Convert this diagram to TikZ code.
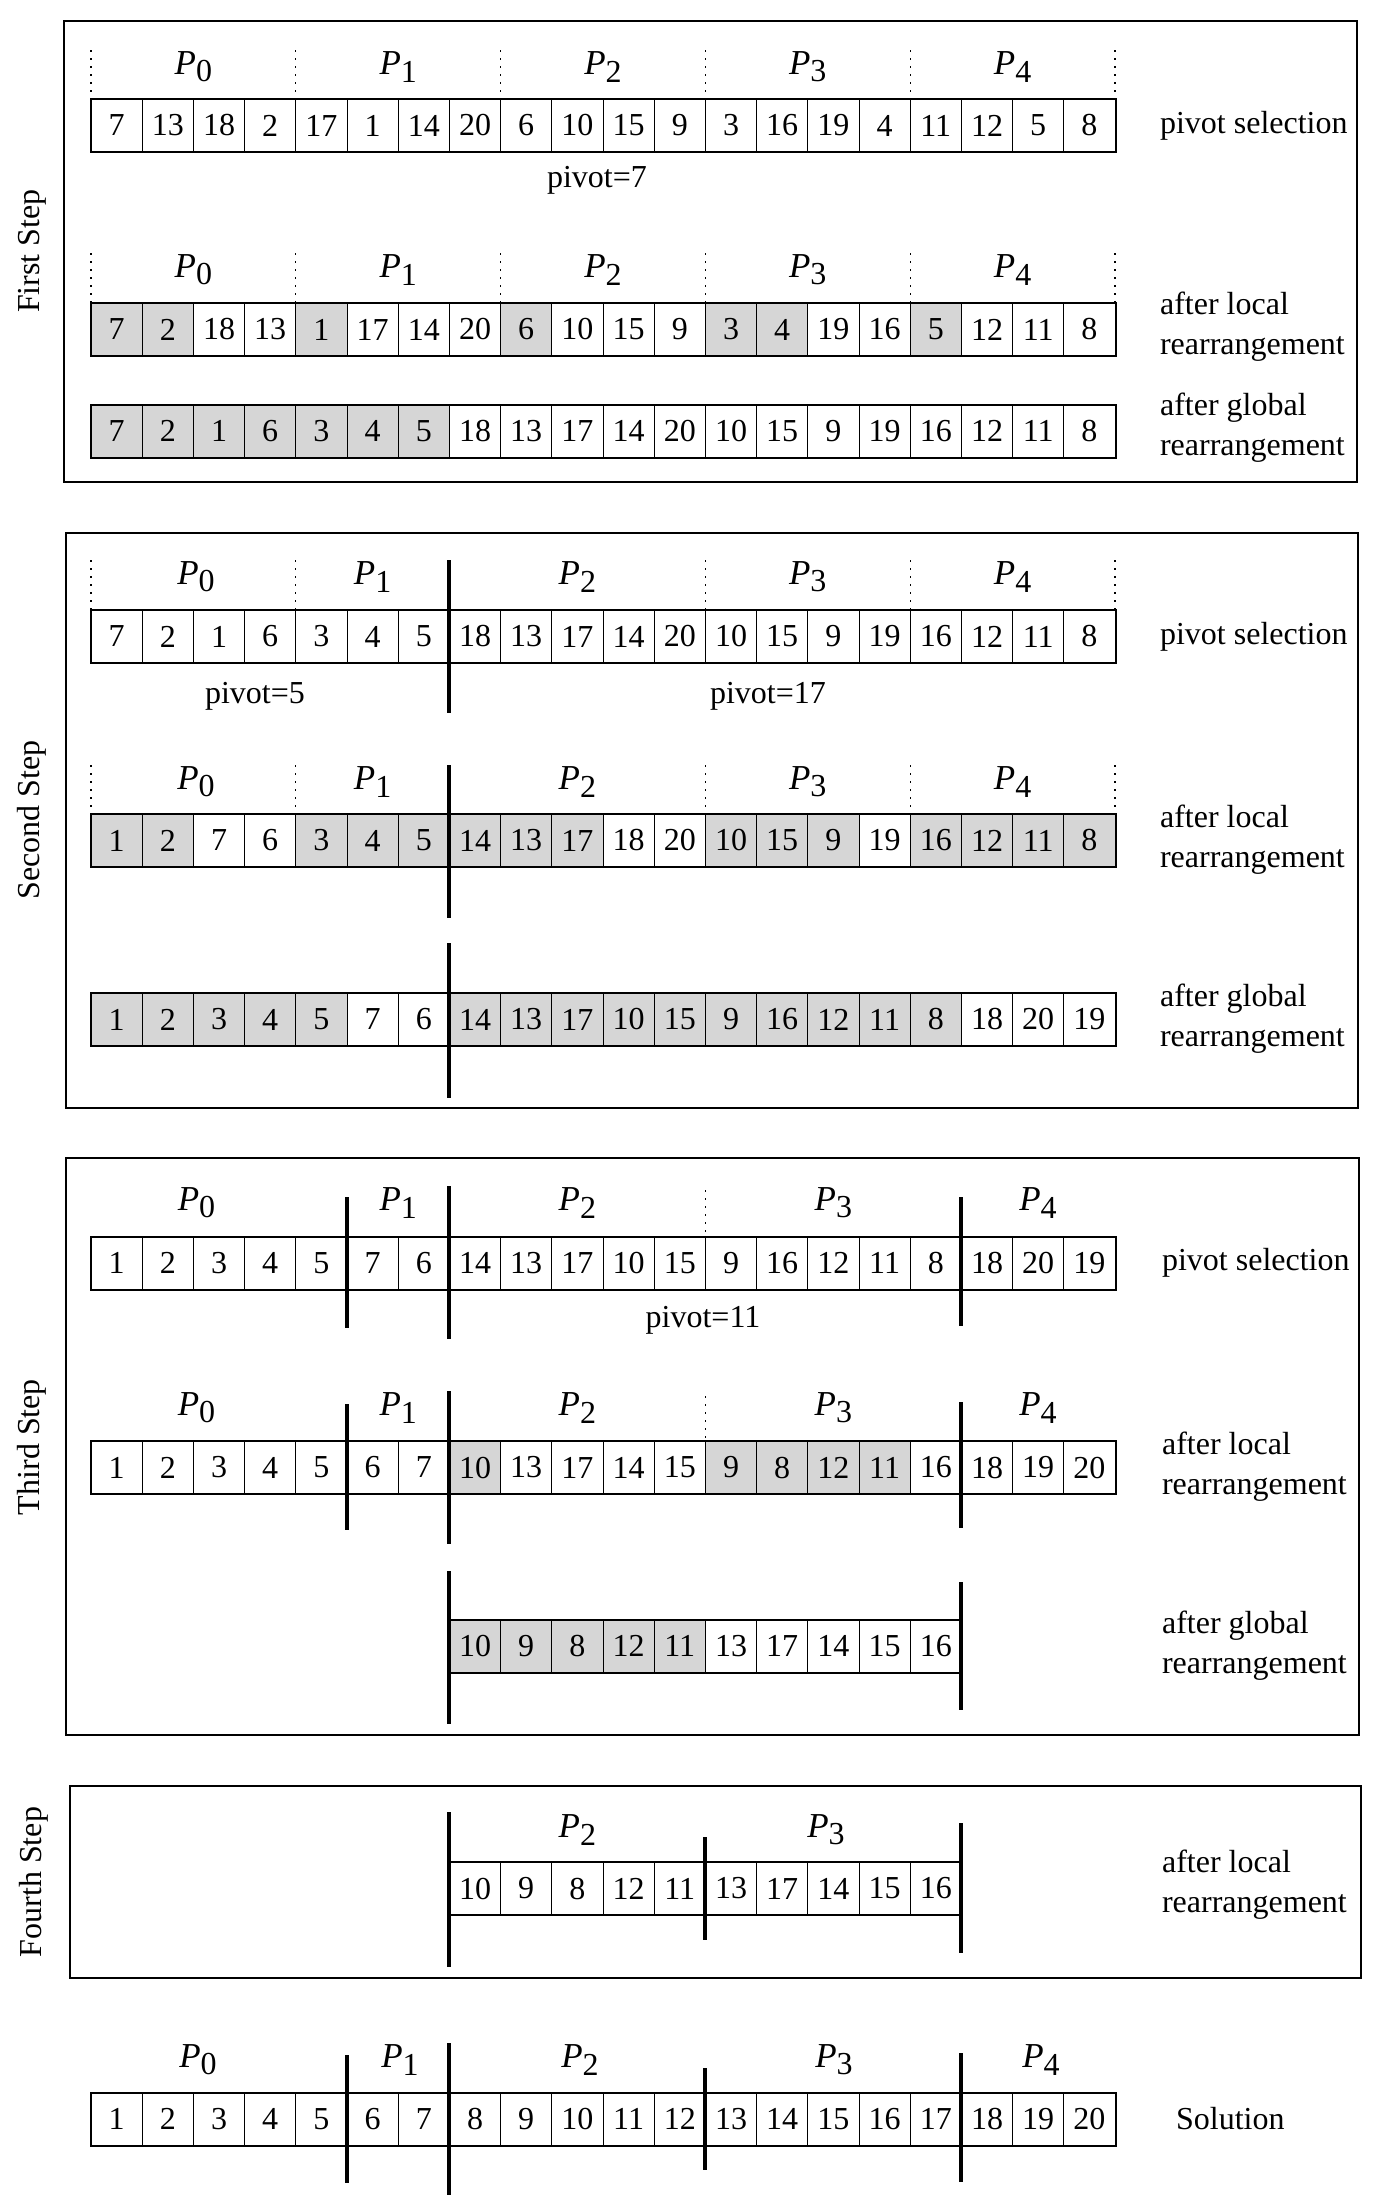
\documentclass[tikz,border=0pt]{standalone}
\usepackage{fontspec}
\setmainfont{Liberation Serif}
\colorlet{sh}{black!16}
\colorlet{wh}{white}

\begin{document}
\begin{tikzpicture}[x=0.5pt,y=-0.5pt,
  cell/.style={draw,line width=0.5pt,minimum width=25.6pt,minimum height=26pt,
    inner sep=0pt,font=\fontsize{16}{19}\selectfont},
  rowbox/.style={draw,line width=1pt},
  stepbox/.style={draw,line width=0.9pt},
  sepline/.style={line width=2pt},
  dotline/.style={line width=0.6pt,dash pattern=on 0.8pt off 3.2pt},
  plab/.style={font=\fontsize{17.5}{20}\selectfont},
  pivlab/.style={font=\fontsize{16}{19}\selectfont},
  lab/.style={anchor=west,align=left,font=\fontsize{16}{20}\selectfont},
  steplab/.style={rotate=90,font=\fontsize{16}{19}\selectfont}]
\useasboundingbox (0,0) rectangle (1377,2201);

\draw[stepbox] (64,21) rectangle (1357,482);
\draw[stepbox] (66,533) rectangle (1358,1108);
\draw[stepbox] (66,1158) rectangle (1359,1735);
\draw[stepbox] (70,1786) rectangle (1361,1978);
\node[steplab] (st1) at (32,251) {First Step};
\node[steplab] (st2) at (32,820) {Second Step};
\node[steplab] (st3) at (32,1447) {Third Step};
\node[steplab] (st4) at (34,1882) {Fourth Step};

\foreach \r/\y/\first/\last/\vals in {
  s1a/125.5/1/20/{7/wh,13/wh,18/wh,2/wh,17/wh,1/wh,14/wh,20/wh,6/wh,10/wh,15/wh,9/wh,3/wh,16/wh,19/wh,4/wh,11/wh,12/wh,5/wh,8/wh},
  s1b/329.5/1/20/{7/sh,2/sh,18/wh,13/wh,1/sh,17/wh,14/wh,20/wh,6/sh,10/wh,15/wh,9/wh,3/sh,4/sh,19/wh,16/wh,5/sh,12/wh,11/wh,8/wh},
  s1c/431/1/20/{7/sh,2/sh,1/sh,6/sh,3/sh,4/sh,5/sh,18/wh,13/wh,17/wh,14/wh,20/wh,10/wh,15/wh,9/wh,19/wh,16/wh,12/wh,11/wh,8/wh},
  s2a/636.5/1/20/{7/wh,2/wh,1/wh,6/wh,3/wh,4/wh,5/wh,18/wh,13/wh,17/wh,14/wh,20/wh,10/wh,15/wh,9/wh,19/wh,16/wh,12/wh,11/wh,8/wh},
  s2b/840.5/1/20/{1/sh,2/sh,7/wh,6/wh,3/sh,4/sh,5/sh,14/sh,13/sh,17/sh,18/wh,20/wh,10/sh,15/sh,9/sh,19/wh,16/sh,12/sh,11/sh,8/sh},
  s2c/1019.5/1/20/{1/sh,2/sh,3/sh,4/sh,5/sh,7/wh,6/wh,14/sh,13/sh,17/sh,10/sh,15/sh,9/sh,16/sh,12/sh,11/sh,8/sh,18/wh,20/wh,19/wh},
  s3a/1263/1/20/{1/wh,2/wh,3/wh,4/wh,5/wh,7/wh,6/wh,14/wh,13/wh,17/wh,10/wh,15/wh,9/wh,16/wh,12/wh,11/wh,8/wh,18/wh,20/wh,19/wh},
  s3b/1467.5/1/20/{1/wh,2/wh,3/wh,4/wh,5/wh,6/wh,7/wh,10/sh,13/wh,17/wh,14/wh,15/wh,9/sh,8/sh,12/sh,11/sh,16/wh,18/wh,19/wh,20/wh},
  s3c/1646/8/17/{10/sh,9/sh,8/sh,12/sh,11/sh,13/wh,17/wh,14/wh,15/wh,16/wh},
  s4a/1888.5/8/17/{10/wh,9/wh,8/wh,12/wh,11/wh,13/wh,17/wh,14/wh,15/wh,16/wh},
  sol/2119/1/20/{1/wh,2/wh,3/wh,4/wh,5/wh,6/wh,7/wh,8/wh,9/wh,10/wh,11/wh,12/wh,13/wh,14/wh,15/wh,16/wh,17/wh,18/wh,19/wh,20/wh}}{
  \foreach \v/\f [count=\i from \first] in \vals
    \node[cell,fill=\f] (\r-\i) at ({91+51.2*(\i-0.5)},\y) {\v};
  \draw[rowbox] (\r-\first.north west) rectangle (\r-\last.south east);
}

\foreach \k/\ya/\yb in {0/50/100,4/50/100,8/50/100,12/50/100,16/50/100,20/50/100,
  0/253/303,4/253/303,8/253/303,12/253/303,16/253/303,20/253/303,
  0/560/611,4/560/611,12/560/611,16/560/611,20/560/611,
  0/765/815,4/765/815,12/765/815,16/765/815,20/765/815,
  12/1190/1237,12/1396/1441}
  \draw[dotline] ({91+51.2*\k},\ya) -- ({91+51.2*\k},\yb);

\foreach \k/\ya/\yb in {7/560/713,7/765/918,7/943/1098,
  5/1197/1328,7/1186/1339,17/1197/1326,
  5/1404/1530,7/1391/1544,17/1402/1528,
  7/1571/1724,17/1582/1710,
  7/1812/1967,12/1837/1940,17/1823/1953,
  5/2055/2183,7/2043/2195,12/2068/2170,17/2053/2182}
  \draw[sepline] ({91+51.2*\k},\ya) -- ({91+51.2*\k},\yb);

\foreach \n/\s/\x/\y in {a0/0/193.4/67,a1/1/398.2/67,a2/2/603/67,a3/3/807.8/67,a4/4/1012.6/67,
  b0/0/193.4/270,b1/1/398.2/270,b2/2/603/270,b3/3/807.8/270,b4/4/1012.6/270,
  c0/0/196/577,c1/1/372.6/577,c2/2/577.4/577,c3/3/807.8/577,c4/4/1012.6/577,
  d0/0/196/782,d1/1/372.6/782,d2/2/577.4/782,d3/3/807.8/782,d4/4/1012.6/782,
  e0/0/196.5/1203,e1/1/398.2/1203,e2/2/577.4/1203,e3/3/833.4/1203,e4/4/1038/1203,
  f0/0/196.5/1408,f1/1/398.2/1408,f2/2/577.4/1408,f3/3/833.4/1408,f4/4/1038/1408,
  g2/2/577.4/1830,g3/3/826/1830,
  h0/0/198/2060,h1/1/400/2060,h2/2/580/2060,h3/3/834/2060,h4/4/1041/2060}
  \node[plab] (p\n) at (\x,\y) {\textit{P}\raisebox{-3.6pt}{\fontsize{16}{18}\selectfont\s}};

\node[pivlab] (piv1) at (597,180) {pivot=7};
\node[pivlab] (piv2) at (255,696) {pivot=5};
\node[pivlab] (piv3) at (768,696) {pivot=17};
\node[pivlab] (piv4) at (703,1320) {pivot=11};

\node[lab] (l1a) at (1153,125.5) {pivot selection};
\node[lab] (l1b) at (1153,327) {after local\\rearrangement};
\node[lab] (l1c) at (1153,428) {after global\\rearrangement};
\node[lab] (l2a) at (1153,636.5) {pivot selection};
\node[lab] (l2b) at (1153,840) {after local\\rearrangement};
\node[lab] (l2c) at (1153,1019) {after global\\rearrangement};
\node[lab] (l3a) at (1155,1263) {pivot selection};
\node[lab] (l3b) at (1155,1467) {after local\\rearrangement};
\node[lab] (l3c) at (1155,1646) {after global\\rearrangement};
\node[lab] (l4a) at (1155,1885) {after local\\rearrangement};
\node[lab] (l5a) at (1169,2119) {Solution};
\end{tikzpicture}
\end{document}
